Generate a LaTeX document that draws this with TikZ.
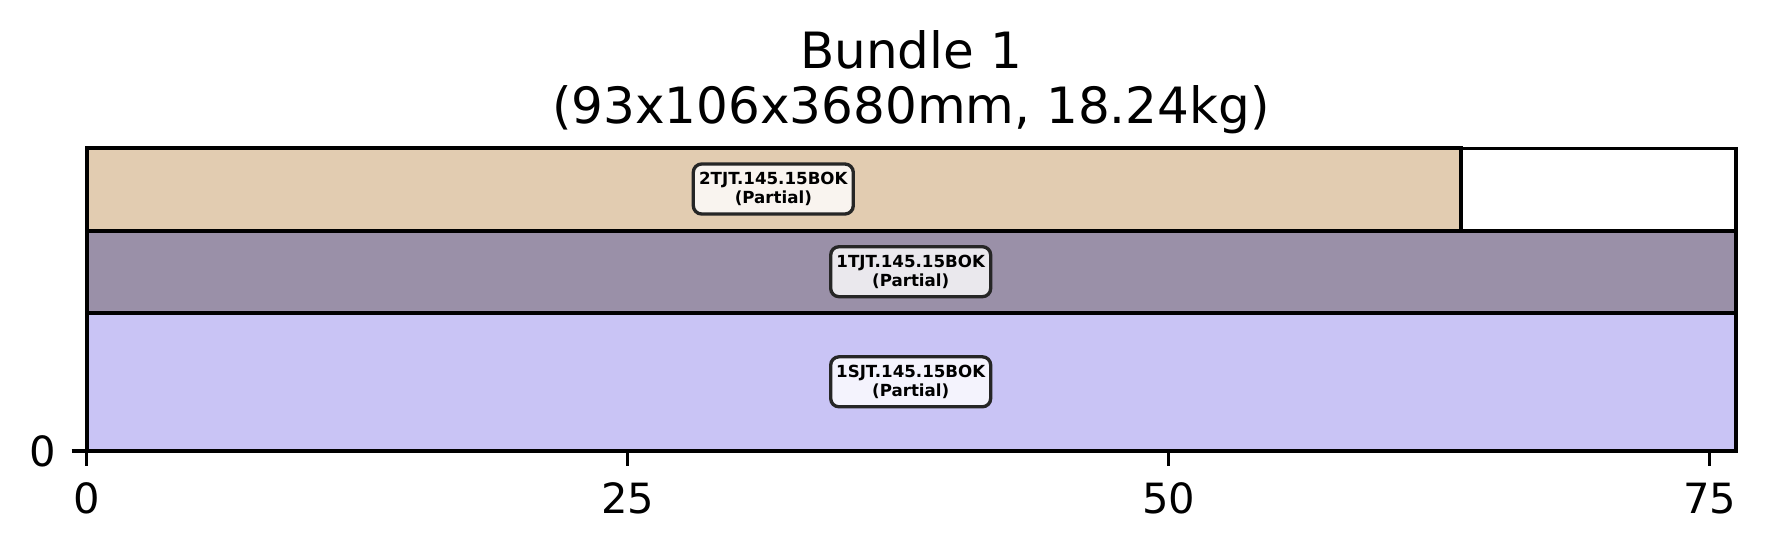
\documentclass[tikz,border=0pt]{standalone}
\usepackage{fontspec}
\setmainfont{DejaVu Sans}
\definecolor{tanbar}{HTML}{E2CCB1}
\definecolor{graybar}{HTML}{9A90A8}
\definecolor{lavbar}{HTML}{C9C4F5}
\definecolor{boxedge}{HTML}{262626}
\tikzset{
  bar/.style={draw=black, line width=1pt},
  lbl/.style={draw=boxedge, line width=0.8pt, fill=white, fill opacity=0.8, text opacity=1,
    rounded corners=2pt, minimum width=38.4pt, minimum height=12pt, inner sep=0pt,
    align=center, font=\fontsize{4}{4.6}\selectfont\bfseries},
  tickline/.style={line width=0.8pt, black},
  ticklbl/.style={inner sep=0pt, font=\fontsize{10}{12}\selectfont},
  titlelbl/.style={inner sep=0pt, anchor=base, font=\fontsize{12}{14}\selectfont}
}
\begin{document}
\begin{tikzpicture}[x=0.24pt, y=-0.24pt]
\useasboundingbox (0,0) rectangle (1766,552);
% bars
\draw[bar, fill=lavbar] (86.7,312.7) rectangle (1736,451);
\draw[bar, fill=graybar] (86.7,230.7) rectangle (1736,312.7);
\draw[bar, fill=tanbar] (86.7,148.3) rectangle (1461,230.7);
% spines
\draw[line width=0.8pt] (86.7,148.3) rectangle (1736,451);
% labels
\node[lbl] (l1) at (773.3,189) {2TJT.145.15BOK\\(Partial)};
\node[lbl] (l2) at (910.7,271.7) {1TJT.145.15BOK\\(Partial)};
\node[lbl] (l3) at (910.7,381.8) {1SJT.145.15BOK\\(Partial)};
% x ticks
\foreach \v/\xx in {0/86.7, 25/627.7, 50/1168.7, 75/1709.7} {
  \draw[tickline] (\xx,451) -- (\xx,466);
  \node[ticklbl, anchor=base] (xt\v) at (\xx,513) {\v};
}
% y tick
\draw[tickline] (71.7,451) -- (86.7,451);
\node[ticklbl, anchor=base east] (yt0) at (57,466.7) {0};
% title
\node[titlelbl] (t1) at (911,68.3) {Bundle 1};
\node[titlelbl] (t2) at (911,123.3) {(93x106x3680mm, 18.24kg)};
\end{tikzpicture}
\end{document}
